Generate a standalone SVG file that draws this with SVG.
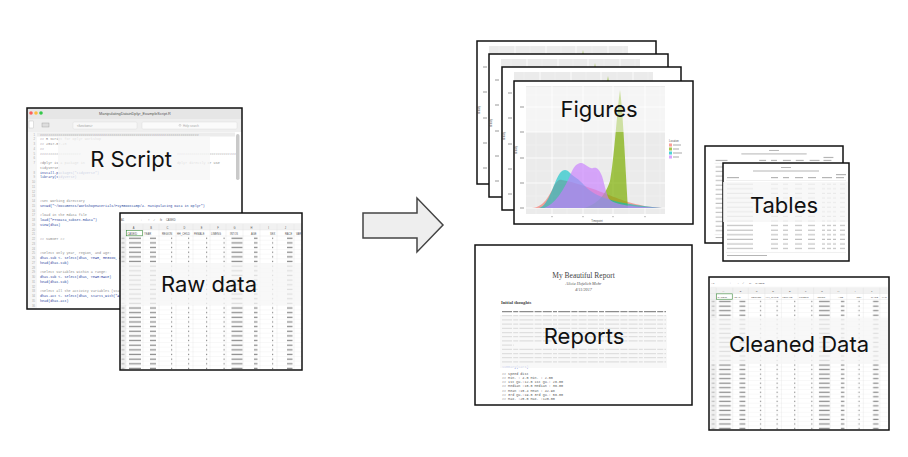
<svg xmlns="http://www.w3.org/2000/svg" xmlns:xlink="http://www.w3.org/1999/xlink" width="908" height="457" viewBox="0 0 908 457">
<style>
.frame{fill:none;stroke:#111;stroke-width:1.5}
.lbl{font-family:Inter,"Open Sans","Liberation Sans",sans-serif;font-size:22px;fill:#111;text-anchor:middle}
.ov{fill:#f6f6f6;opacity:.78}
.mono{font-family:"Liberation Mono","DejaVu Sans Mono",monospace;font-size:3.4px;white-space:pre}
.cm{fill:#8a8a8a}
.cd{fill:#2b48a0}
.ln{font-family:"Liberation Sans",sans-serif;font-size:2.8px;fill:#aaa;text-anchor:end}
.tiny{font-family:"Liberation Sans",sans-serif;font-size:2.6px;fill:#555}
.words{fill:none;stroke:#8c8c8c;stroke-width:1.25;stroke-dasharray:10 1.2 5 1.2 14 1.2 7 1.2 9 1.2 4 1.2 12 1.2 6 1.2 8 1.2}
</style>
<defs>
<pattern id="rows" patternUnits="userSpaceOnUse" x="0" y="23" width="182" height="4.65">
<rect x="0" y="4.4" width="182" height=".25" fill="#e4e4e4"/>
<g fill="#8c8c8c">
<rect x="1.5" y="1.6" width="3" height="1.3" fill="#bbb"/>
<rect x="9" y="1.6" width="12" height="1.3"/>
<rect x="30" y="1.6" width="6" height="1.3"/>
<rect x="51" y="1.6" width="1.2" height="1.3"/>
<rect x="68" y="1.6" width="1.2" height="1.3"/>
<rect x="86" y="1.6" width="1.2" height="1.3"/>
<rect x="103.5" y="1.6" width="1.2" height="1.3"/>
<rect x="111.5" y="1.6" width="11" height="1.3"/>
<rect x="134" y="1.6" width="3.5" height="1.3"/>
<rect x="152" y="1.6" width="1.2" height="1.3"/>
<rect x="167" y="1.6" width="5.5" height="1.3"/>
</g>
</pattern>
<symbol id="sheet" viewBox="0 0 182 157">
<rect width="182" height="157" fill="#fff"/>
<rect x="0" y="11" width="182" height="6" fill="#f1f1f1"/>
<rect x="0" y="11" width="6" height="146" fill="#f1f1f1"/>
<rect x="0" y="23" width="182" height="134" fill="url(#rows)"/>
<path d="M6,11V157M23,11V157M39,11V157M56,11V157M73,11V157M90,11V157M106,11V157M123,11V157M140,11V157M157,11V157M174,11V157M0,17H182M0,23H182M0,10.5H182" stroke="#dadada" stroke-width=".3"/>
<rect x="6.5" y="17.3" width="16" height="5.5" fill="none" stroke="#3a8a3a" stroke-width=".6"/>
<g class="tiny">
<text x="1" y="7.5">A1</text><text x="20.5" y="7.5" fill="#999">⁝</text><text x="28" y="7.5" fill="#aaa">×</text><text x="33" y="7.5" fill="#aaa">✓</text><text x="40" y="7.5" font-style="italic">fx</text><text x="46" y="7.5">CASEID</text>
</g>
<g class="tiny" text-anchor="middle" fill="#777">
<text x="13.5" y="15.5">A</text><text x="31" y="15.5">B</text><text x="47.5" y="15.5">C</text><text x="64.5" y="15.5">D</text><text x="81.5" y="15.5">E</text><text x="98" y="15.5">F</text><text x="114.5" y="15.5">G</text><text x="131.5" y="15.5">H</text><text x="148.5" y="15.5">I</text><text x="165.5" y="15.5">J</text>
</g>
<g class="tiny" font-size="2.3">
<text x="7.5" y="21.5">CASEID</text><text x="24" y="21.5">YEAR</text><text x="42" y="21.5">REGION</text><text x="57" y="21.5">HH_CHILD</text><text x="74" y="21.5">FEMALE</text><text x="91" y="21.5">LIMENG</text><text x="110" y="21.5">INTOS</text><text x="131" y="21.5">AGE</text><text x="150" y="21.5">SEX</text><text x="165" y="21.5">RACE</text><text x="176" y="21.5">VAR</text>
</g>
</symbol>
<symbol id="plot" viewBox="0 0 179 143">
<rect width="179" height="143" fill="#fff"/>
<rect x="12" y="5" width="139" height="128" fill="#ebebeb"/>
<path d="M22,5V133M53,5V133M84,5V133M115,5V133M146,5V133M12,14H151M12,39H151M12,64H151M12,90H151M12,115H151" stroke="#f4f4f4" stroke-width=".4"/>
<path d="M38,5V133M69,5V133M99,5V133M131,5V133M12,26H151M12,51H151M12,77H151M12,102H151M12,127H151" stroke="#fff" stroke-width=".8"/>
<path d="M18,127C30,126 35,115 40,105C43,99 46,98 48,99C60,101 80,108 90,112C105,118 120,125 148,127Z" fill="#F8766D" fill-opacity=".65"/>
<path d="M70,127C80,124 90,118 96,100C100,80 103,30 106,9C109,30 111,80 114,127Z" fill="#7CAE00" fill-opacity=".7"/>
<path d="M25,127C35,125 40,100 46,92C49,88 53,88 56,92C60,96 65,98 70,104C80,115 95,122 148,127Z" fill="#00BFC4" fill-opacity=".6"/>
<path d="M30,127C40,124 50,110 58,90C62,82 67,81 70,83C74,85 76,88 79,87C83,86 85,88 88,95C91,105 92,112 95,118C100,124 120,126 148,127Z" fill="#C77CFF" fill-opacity=".65"/>
<g fill="#999"><rect x="6" y="25.5" width="4" height="1"/><rect x="6" y="50.5" width="4" height="1"/><rect x="6" y="76.5" width="4" height="1"/><rect x="6" y="101.5" width="4" height="1"/><rect x="6" y="126.5" width="4" height="1"/>
<rect x="37.5" y="135" width="1" height="1.2"/><rect x="68.5" y="135" width="1" height="1.2"/><rect x="98.5" y="135" width="1" height="1.2"/><rect x="130.5" y="135" width="1" height="1.2"/></g>
<text x="3" y="69" transform="rotate(-90 3 69)" class="tiny" font-size="2.3" text-anchor="middle">density</text>
<text x="83" y="141" class="tiny" font-size="2.3" text-anchor="middle">Timepoint</text>
<text x="155" y="61" class="tiny" font-size="2">Location</text>
<rect x="155" y="62.5" width="3" height="3" fill="#F8766D" fill-opacity=".7"/>
<rect x="155" y="66.5" width="3" height="3" fill="#7CAE00" fill-opacity=".7"/>
<rect x="155" y="70.5" width="3" height="3" fill="#00BFC4" fill-opacity=".7"/>
<rect x="155" y="74.5" width="3" height="3" fill="#C77CFF" fill-opacity=".7"/>
<g fill="#aaa"><rect x="159" y="63.5" width="8" height="1"/><rect x="159" y="67.5" width="6" height="1"/><rect x="159" y="71.5" width="9" height="1"/><rect x="159" y="75.5" width="6" height="1"/></g>
</symbol>
<pattern id="trows" patternUnits="userSpaceOnUse" x="0" y="19" width="126" height="4.6">
<g fill="#bdbdbd">
<rect x="4" y="1.6" width="26" height="1.1"/>
<rect x="48" y="1.6" width="7" height="1.1"/>
<rect x="60" y="1.6" width="5" height="1.1"/>
<rect x="72" y="1.6" width="7" height="1.1"/>
<rect x="85" y="1.6" width="7" height="1.1"/>
<rect x="99" y="1.6" width="3" height="1.1"/>
<rect x="104" y="1.6" width="4" height="1.1"/>
<rect x="110" y="1.6" width="3" height="1.1"/>
<rect x="117" y="1.6" width="5" height="1.1"/>
</g>
</pattern>
<symbol id="tbl" viewBox="0 0 126 98">
<rect width="126" height="98" fill="#fff"/>
<g fill="#b5b5b5">
<rect x="58" y="4" width="10" height="1"/>
<rect x="30" y="7.5" width="66" height="1"/>
<rect x="4" y="14" width="12" height="1.2"/>
<rect x="48" y="14" width="7" height="1.2"/><rect x="60" y="14" width="6" height="1.2"/><rect x="72" y="14" width="8" height="1.2"/><rect x="85" y="14" width="8" height="1.2"/><rect x="99" y="14" width="10" height="1.2"/><rect x="113" y="11" width="10" height="1.2"/><rect x="113" y="14" width="8" height="1.2"/>
<rect x="4" y="92" width="40" height="1"/>
</g>
<rect x="0" y="19" width="126" height="70" fill="url(#trows)"/>
<path d="M3,17.5H123M3,89.5H123" stroke="#ccc" stroke-width=".3"/>
</symbol>
<clipPath id="edclip"><rect x="37" y="132" width="199" height="177"/></clipPath>
</defs>

<g id="connectors">
<polygon points="363,213 417,213 417,198 443,225 417,252 417,238 363,238" fill="#eeeeee" stroke="#444" stroke-width="1.5"/>
</g>

<g id="node-rscript">
<rect x="27" y="108" width="215" height="201" fill="#fff"/>
<rect x="27" y="108" width="215" height="11" fill="#e6e6e6"/>
<rect x="27" y="119" width="215" height="13" fill="#efefef"/>
<circle cx="31" cy="113" r="1.8" fill="#fc605c"/><circle cx="36" cy="113" r="1.8" fill="#fdbc40"/><circle cx="41" cy="113" r="1.8" fill="#34c84a"/>
<text x="135" y="115.3" font-family="Liberation Sans,sans-serif" font-size="3.8" fill="#555" text-anchor="middle">ManipulatingDatainDplyr_ExampleScript.R</text>
<rect x="29" y="121" width="4.5" height="7" fill="#fff" stroke="#bbb" stroke-width=".4"/>
<rect x="42" y="123" width="7" height="4" fill="#ddd" stroke="#999" stroke-width=".4"/>
<rect x="73" y="122" width="64" height="7" rx="1" fill="#f8f8f8" stroke="#d0d0d0" stroke-width=".3"/>
<text x="77" y="126.6" font-family="Liberation Sans,sans-serif" font-size="3" fill="#999">&lt;functions&gt;</text>
<rect x="142" y="122" width="95" height="7" rx="1" fill="#fbfbfb" stroke="#d0d0d0" stroke-width=".3"/>
<circle cx="180" cy="125.3" r="1" fill="none" stroke="#aaa" stroke-width=".4"/>
<text x="183" y="126.6" font-family="Liberation Sans,sans-serif" font-size="3" fill="#aaa">Help search</text>
<rect x="27" y="132" width="10" height="177" fill="#f6f6f6"/>
<rect x="37" y="132.5" width="198" height="4" fill="#ececec"/>
<rect x="236" y="134" width="3.5" height="46" rx="1.7" fill="#c9c9c9"/>
<text class="ln"><tspan x="35" y="135.5">1</tspan><tspan x="35" y="140.25">2</tspan><tspan x="35" y="145">3</tspan><tspan x="35" y="149.75">4</tspan><tspan x="35" y="154.5">5</tspan><tspan x="35" y="159.25">6</tspan><tspan x="35" y="164">7</tspan><tspan x="35" y="173.5">8</tspan><tspan x="35" y="178.25">9</tspan><tspan x="35" y="183">10</tspan><tspan x="35" y="187.75">11</tspan><tspan x="35" y="192.5">12</tspan><tspan x="35" y="197.25">13</tspan><tspan x="35" y="202">14</tspan><tspan x="35" y="206.75">15</tspan><tspan x="35" y="211.5">16</tspan><tspan x="35" y="216.25">17</tspan><tspan x="35" y="221">18</tspan><tspan x="35" y="225.75">19</tspan><tspan x="35" y="230.5">20</tspan><tspan x="35" y="235.25">21</tspan><tspan x="35" y="240">22</tspan><tspan x="35" y="244.75">23</tspan><tspan x="35" y="249.5">24</tspan><tspan x="35" y="254.25">25</tspan><tspan x="35" y="259">26</tspan><tspan x="35" y="263.75">27</tspan><tspan x="35" y="268.5">28</tspan><tspan x="35" y="273.25">29</tspan><tspan x="35" y="278">30</tspan><tspan x="35" y="282.75">31</tspan><tspan x="35" y="287.5">32</tspan><tspan x="35" y="292.25">33</tspan><tspan x="35" y="297">34</tspan><tspan x="35" y="301.75">35</tspan><tspan x="35" y="306.5">36</tspan></text>
<g clip-path="url(#edclip)" class="mono">
<text x="40" y="135.5" class="cm">##############################################################################</text>
<text x="40" y="140.25" class="cm">## R Script for Dplyr Workshop</text>
<text x="40" y="145" class="cm">##  2017-07-23</text>
<text x="40" y="149.75" class="cm">##</text>
<text x="40" y="154.5" class="cm">####################</text>
<text x="177" y="154.5" class="cm">##############################</text>
<text x="40" y="164" class="cm">#dplyr is a package in</text>
<text x="177" y="164" class="cm">dplyr directly or use</text>
<text x="40" y="168.75" class="cm">tidyverse:</text>
<text x="40" y="173.5" class="cd">install.packages("tidyverse")</text>
<text x="40" y="178.25" class="cd">library(tidyverse)</text>
<text x="40" y="202" class="cm">#set working directory</text>
<text x="40" y="206.75" class="cd">setwd("~/Documents/WorkshopMaterials/PsyRBootcamp/4. Manipulating Data in Dplyr")</text>
<text x="40" y="216.25" class="cm">#load in the Rdata file</text>
<text x="40" y="221" class="cd">load("PTSData_subset.Rdata")</text>
<text x="40" y="225.75" class="cd">View(dhas)</text>
<text x="40" y="240" class="cm">## SUBSET ##</text>
<text x="40" y="254.25" class="cm">#Select only year, region, and age:</text>
<text x="40" y="259" class="cd">dhas.sub &lt;- select(dhas, YEAR, REGION, AGE)</text>
<text x="40" y="263.75" class="cd">head(dhas.sub)</text>
<text x="40" y="273.25" class="cm">#Select variables within a range:</text>
<text x="40" y="278" class="cd">dhas.sub &lt;- select(dhas, YEAR:RACE)</text>
<text x="40" y="282.75" class="cd">head(dhas.sub)</text>
<text x="40" y="292.25" class="cm">#Select all the activity variables (starting with "ACT"):</text>
<text x="40" y="297" class="cd">dhas.act &lt;- select(dhas, starts_with("ACT"))</text>
<text x="40" y="301.75" class="cd">head(dhas.act)</text>
</g>
<rect x="27" y="108" width="215" height="201" class="frame"/>
<rect x="58" y="137" width="152" height="43" class="ov"/>
<text x="131" y="167" class="lbl">R Script</text>
</g>

<g id="node-rawdata">
<use xlink:href="#sheet" x="120" y="213" width="182" height="157" preserveAspectRatio="none"/>
<rect x="120" y="213" width="182" height="157" class="frame"/>
<rect x="121" y="263" width="180" height="42" class="ov"/>
<text x="209" y="292" class="lbl">Raw data</text>
</g>

<g id="node-figures">
<use xlink:href="#plot" x="477" y="41" width="179" height="143"/>
<rect x="477" y="41" width="179" height="143" class="frame"/>
<use xlink:href="#plot" x="489" y="54" width="179" height="143"/>
<rect x="489" y="54" width="179" height="143" class="frame"/>
<use xlink:href="#plot" x="502" y="67" width="179" height="143"/>
<rect x="502" y="67" width="179" height="143" class="frame"/>
<use xlink:href="#plot" x="514" y="81" width="179" height="143"/>
<rect x="514" y="81" width="179" height="143" class="frame"/>
<rect x="525" y="87" width="150" height="45" fill="#fff" opacity=".5"/>
<text x="599" y="117" class="lbl">Figures</text>
</g>

<g id="node-tables">
<use xlink:href="#tbl" x="705" y="146" width="138" height="97" preserveAspectRatio="none"/>
<rect x="705" y="146" width="138" height="97" class="frame"/>
<use xlink:href="#tbl" x="723" y="163" width="126" height="98"/>
<rect x="723" y="163" width="126" height="98" class="frame"/>
<rect x="723" y="182" width="125" height="40" class="ov"/>
<text x="784" y="213" class="lbl">Tables</text>
</g>

<g id="node-reports">
<rect x="475" y="245" width="217" height="160" fill="#fff"/>
<text x="583.5" y="278" font-family="Liberation Serif,serif" font-size="7.5" fill="#444" text-anchor="middle">My Beautiful Report</text>
<text x="583.5" y="284.5" font-family="Liberation Serif,serif" font-size="4.2" font-style="italic" fill="#555" text-anchor="middle">Alicia Hofelich Mohr</text>
<text x="583.5" y="290.5" font-family="Liberation Serif,serif" font-size="4.2" font-style="italic" fill="#555" text-anchor="middle">4/11/2017</text>
<text x="501" y="304" font-family="Liberation Serif,serif" font-size="4.6" font-weight="bold" fill="#444">Initial thoughts</text>
<path class="words" d="M502,311.5H666M502,315.7H666M502,319.9H666M502,324.1H666M502,328.3H666M502,332.5H666M502,336.7H666M502,340.9H666M502,345.1H514M502,349.3H666M502,353.5H666M502,357.7H666M502,361.9H666"/>
<text x="502" y="367.5" class="mono" fill="#3a5ad0">summary(cars)</text>
<g class="mono" fill="#555">
<text x="502" y="374.5">##      speed           dist    </text>
<text x="502" y="378.8">##  Min.   : 4.0   Min.   :  2.00  </text>
<text x="502" y="383.1">##  1st Qu.:12.0   1st Qu.: 26.00  </text>
<text x="502" y="387.4">##  Median :15.0   Median : 36.00  </text>
<text x="502" y="391.7">##  Mean   :15.4   Mean   : 42.98  </text>
<text x="502" y="396">##  3rd Qu.:19.0   3rd Qu.: 56.00  </text>
<text x="502" y="400.3">##  Max.   :25.0   Max.   :120.00  </text>
</g>
<rect x="500" y="315" width="167" height="53" class="ov"/>
<rect x="475" y="245" width="217" height="160" class="frame"/>
<text x="584" y="344" class="lbl">Reports</text>
</g>

<g id="node-cleaned">
<use xlink:href="#sheet" x="709" y="277" width="180" height="153" preserveAspectRatio="none"/>
<rect x="709" y="277" width="180" height="153" class="frame"/>
<rect x="710" y="318" width="178" height="46" class="ov"/>
<text x="799" y="352" class="lbl">Cleaned Data</text>
</g>
</svg>
